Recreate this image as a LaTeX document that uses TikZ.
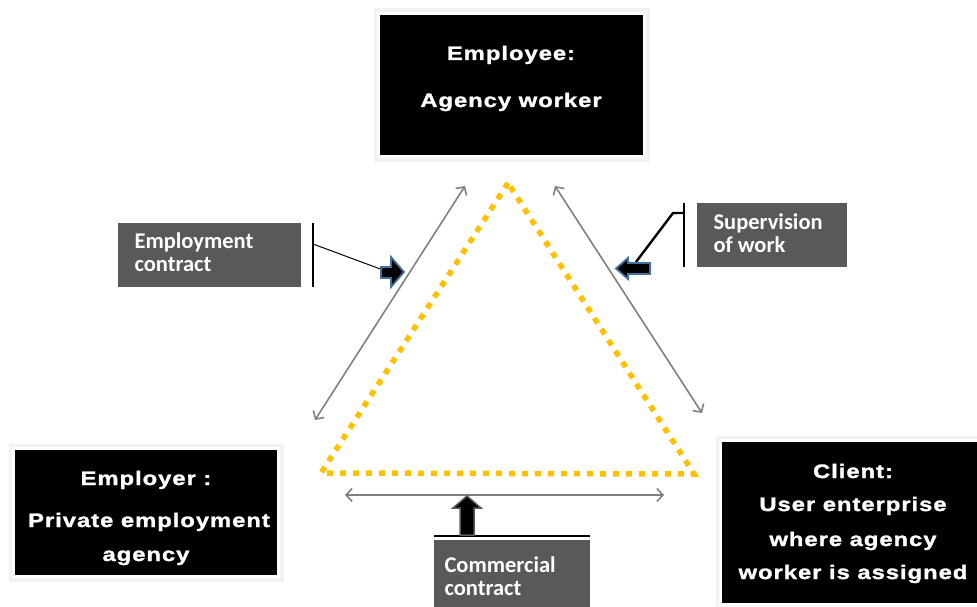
\documentclass[tikz,border=0pt]{standalone}
\usepackage{fontspec}
\setmainfont{Liberation Sans}
\newfontfamily\boxfont{Liberation Sans Bold}[FakeStretch=1.22,LetterSpace=5,FakeBold=1.5]
\newfontfamily\lblfont{Carlito Bold}
\usetikzlibrary{arrows.meta}
\definecolor{lblgrey}{HTML}{595959}
\definecolor{arrgrey}{HTML}{808080}
\definecolor{yel}{HTML}{FFC000}
\definecolor{blueout}{HTML}{41719C}
\tikzset{
  party/.style={draw=white,line width=3pt,fill=black,inner sep=0pt,
    preaction={draw=black!12,line width=7pt},
    preaction={draw=black!5,line width=10pt}},
  partytext/.style={text=white,font=\boxfont\fontsize{19.5}{22}\selectfont,anchor=base},
  lblbox/.style={fill=lblgrey,inner sep=0pt},
  lbltext/.style={text=white,font=\lblfont\fontsize{22.5}{26}\selectfont,anchor=base west},
  relarrow/.style={draw=arrgrey,line width=1.6pt,{Straight Barb[length=6pt,width=13pt]}-{Straight Barb[length=6pt,width=13pt]}},
  triangle/.style={draw=yel,line width=5.5pt,dash pattern=on 6pt off 7pt},
  lead/.style={draw=black,line width=1.4pt},
  blockarr/.style={fill=black,draw=blueout,line width=1.8pt,line join=miter},
}
\begin{document}
\begin{tikzpicture}[x=1pt,y=-1pt]
\useasboundingbox (0,0) rectangle (977,607);
% party boxes
\node[party,minimum width=266pt,minimum height=143pt] (emp) at (511.5,85) {};
\node[partytext] (empA) at (511,60) {Employee:};
\node[partytext] (empB) at (511,107) {Agency worker};
\node[party,minimum width=265pt,minimum height=128pt] (agy) at (146,512.5) {};
\node[partytext] (agyA) at (146,485) {Employer :};
\node[partytext] (agyB) at (149,527) {Private employment};
\node[partytext] (agyC) at (146,561) {agency};
\node[party,minimum width=265pt,minimum height=164pt] (cli) at (853,522.5) {};
\node[partytext] (cliA) at (853,478) {Client:};
\node[partytext] (cliB) at (853,511) {User enterprise};
\node[partytext] (cliC) at (853,546) {where agency};
\node[partytext] (cliD) at (853,579) {worker is assigned};
% dotted triangle
\coordinate (tA) at (508,183);
\coordinate (tB) at (321,473);
\coordinate (tC) at (694,474);
\draw[triangle] (tA) -- (tB) -- (tC) -- cycle;
% grey relation arrows
\coordinate (l1) at (465,186); \coordinate (l2) at (315,420);
\coordinate (r1) at (555,186); \coordinate (r2) at (702,413);
\coordinate (b1) at (345,495); \coordinate (b2) at (664,495);
\draw[relarrow] (l1) -- (l2);
\draw[relarrow] (r1) -- (r2);
\draw[relarrow] (b1) -- (b2);
% label boxes
\node[lblbox,minimum width=183pt,minimum height=64pt] (ec) at (209.5,255) {};
\node[lbltext] (ecA) at (131,248) {Employment};
\node[lbltext] (ecB) at (131,271) {contract};
\node[lblbox,minimum width=150pt,minimum height=64pt] (sw) at (772,235) {};
\node[lbltext] (swA) at (710,229) {Supervision};
\node[lbltext] (swB) at (710,252) {of work};
\node[lblbox,minimum width=156pt,minimum height=70pt] (cc) at (512,575) {};
\node[lbltext] (ccA) at (441,572) {Commercial};
\node[lbltext] (ccB) at (441,595) {contract};
% bracket lines and leaders
\coordinate (ecT) at (313,223); \coordinate (ecBt) at (313,287);
\draw[lead] (ecT) -- (ecBt);
\coordinate (ecL) at (313,244); \coordinate (ecE) at (383,270);
\draw[lead,line width=1pt] (ecL) -- (ecE);
\coordinate (swT) at (684,203); \coordinate (swBt) at (684,267);
\draw[lead,line width=2pt] (swT) -- (swBt);
\coordinate (swL) at (684,213); \coordinate (swK) at (673,213); \coordinate (swE) at (636,262);
\draw[lead,line width=2.4pt] (swL) -- (swK) -- (swE);
\coordinate (ccL) at (434,536); \coordinate (ccR) at (590,536);
\draw[lead,line width=2pt] (ccL) -- (ccR);
% block arrows
\draw[blockarr] (381,267) -- (391,267) -- (391,257) -- (404,272) -- (391,287) -- (391,278) -- (381,278) -- cycle;
\draw[blockarr] (650,263) -- (628,263) -- (628,258) -- (616,268.5) -- (628,279) -- (628,274) -- (650,274) -- cycle;
\draw[fill=black,draw=lblgrey,line width=1.5pt] (460,535) -- (460,508) -- (453,508) -- (467,496) -- (481,508) -- (474,508) -- (474,535) -- cycle;
\end{tikzpicture}
\end{document}
